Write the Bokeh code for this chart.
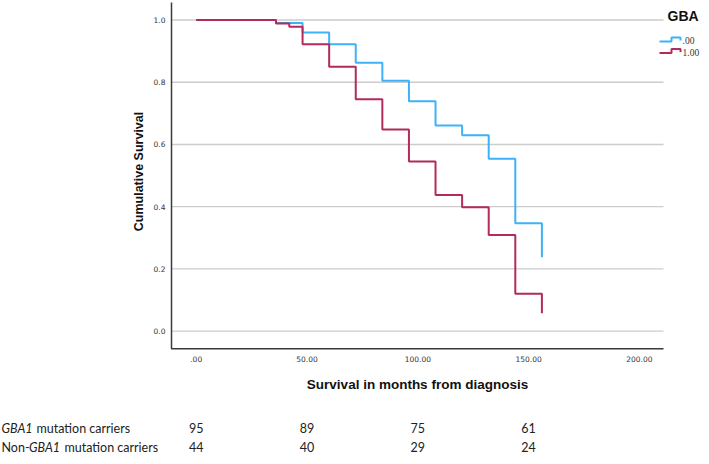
import math
from bokeh.plotting import figure
from bokeh.models import Range1d
from bokeh.core.properties import value
from bokeh.embed import file_html
from bokeh.resources import INLINE

# ---- data (Kaplan-Meier steps) ----
time_gba0 = [0, 36, 48, 60, 72, 84, 96, 108, 120, 132, 144, 156]
surv_gba0 = [1.0, 0.99, 0.96, 0.922, 0.863, 0.805, 0.739, 0.661, 0.630, 0.554, 0.347, 0.238]

time_gba1 = [0, 36, 42, 48, 60, 72, 84, 96, 108, 120, 132, 144, 156]
surv_gba1 = [1.0, 0.989, 0.978, 0.922, 0.850, 0.745, 0.648, 0.545, 0.438, 0.398, 0.309, 0.120, 0.058]

group_names = [".00", "1.00"]
legend_title = "GBA"

x_ticks = [0, 50, 100, 150, 200]
x_tick_labels = [".00", "50.00", "100.00", "150.00", "200.00"]
y_ticks = [0.0, 0.2, 0.4, 0.6, 0.8, 1.0]
y_tick_labels = ["0.0", "0.2", "0.4", "0.6", "0.8", "1.0"]

x_title = "Survival in months from diagnosis"
y_title = "Cumulative Survival"

risk_times = [0, 50, 100, 150]
risk_gba1_carriers = [95, 89, 75, 61]
risk_non_carriers = [44, 40, 29, 24]

BLUE = "#3db2f8"
RED = "#b32a5c"
AXIS = "#3a3a3a"
GRID = "#cccccc"
TXT = "#222222"

# ---- canvas geometry (pixels) and the pixel <-> data scale ----
W, H = 701, 456
XPX0, PXU = 195.7, 2.216      # pixel of x=0, pixels per month
YPX0, PYU = 330.7, 311.2      # pixel of y=0, pixels per unit survival


def dx(px):
    return (px - XPX0) / PXU


def dy(py):
    return (YPX0 - py) / PYU


X0, X1 = dx(171), dx(663)     # plot box
YT, YB = dy(2), dy(348.3)

p = figure(width=W, height=H, output_backend="svg", toolbar_location=None,
           x_range=Range1d(dx(0), dx(W)), y_range=Range1d(dy(H), dy(0)),
           min_border=0, min_border_left=0, min_border_right=0,
           min_border_top=0, min_border_bottom=0)
p.axis.visible = False
p.grid.grid_line_color = None
p.outline_line_color = None

# grid lines and axis lines
n = len(y_ticks)
p.segment(x0=[X0] * n, y0=y_ticks, x1=[X1] * n, y1=y_ticks, line_color=GRID, line_width=1.3)
p.line([X0, X0, X1], [YT, YB, YB], line_color=AXIS, line_width=1.5)

# tick labels
tick_font = value("DejaVu Sans")
p.text(x=[dx(165)] * n, y=y_ticks, text=y_tick_labels, text_align="right",
       text_baseline="middle", text_font=tick_font, text_font_size=value("7.5px"),
       text_color="#333333")
p.text(x=x_ticks, y=[dy(358)] * len(x_ticks), text=x_tick_labels, text_align="center",
       text_baseline="middle", text_font=tick_font, text_font_size=value("7.5px"),
       text_color="#333333")

# axis titles
title_font = value("Liberation Sans")
p.text(x=[dx(417)], y=[dy(384)], text=[x_title], text_align="center",
       text_baseline="middle", text_font=title_font, text_font_style="bold",
       text_font_size=value("13.5px"), text_color="#111111")
p.text(x=[dx(138)], y=[dy(171)], text=[y_title], angle=math.pi / 2, text_align="center",
       text_baseline="middle", text_font=title_font, text_font_style="bold",
       text_font_size=value("12.5px"), text_color="#111111")

# survival curves
p.step(time_gba0, surv_gba0, mode="after", line_color=BLUE, line_width=2)
p.step(time_gba1, surv_gba1, mode="after", line_color=RED, line_width=2)

# legend (drawn by hand so the icons can be little steps)
LX = -5
p.text(x=[dx(667)], y=[dy(15)], text=[legend_title], text_align="left",
       text_baseline="middle", text_font=title_font, text_font_style="bold",
       text_font_size=value("14px"), text_color="#111111")
for color, name, cy in zip([BLUE, RED], group_names, [39.5, 51]):
    ipx = [664 + LX, 676 + LX, 676 + LX, 685 + LX, 685 + LX]
    ipy = [cy + 1.5, cy + 1.5, cy - 2.5, cy - 2.5, cy + 0.5]
    p.line([dx(v) for v in ipx], [dy(v) for v in ipy], line_color=color, line_width=2)
    p.text(x=[dx(687 + LX)], y=[dy(cy + 0.5)], text=[name], text_align="left",
           text_baseline="middle", text_font=value("Liberation Serif"),
           text_font_size=value("9.5px"), text_color="#333333")

# ---- number-at-risk table ----
row_y = [dy(427.7), dy(446.5)]
font = value("Lato")
fs = value("12.5px")
for yy, counts in zip(row_y, [risk_gba1_carriers, risk_non_carriers]):
    p.text(x=risk_times, y=[yy] * len(risk_times), text=[str(c) for c in counts],
           text_align="center", text_baseline="middle", text_font=font, text_font_size=fs,
           text_color=TXT)

row_parts = [
    [(1, "GBA1", "italic"), (36, "mutation carriers", "normal")],
    [(1, "Non-", "normal"), (28.5, "GBA1", "italic"), (64, "mutation carriers", "normal")],
]
for yy, parts in zip(row_y, row_parts):
    for px, txt, style in parts:
        p.text(x=[dx(px)], y=[yy], text=[txt], text_align="left",
               text_baseline="middle", text_font=font, text_font_size=fs,
               text_font_style=style, text_color=TXT)

open("out.html", "w").write(file_html(p, INLINE))
